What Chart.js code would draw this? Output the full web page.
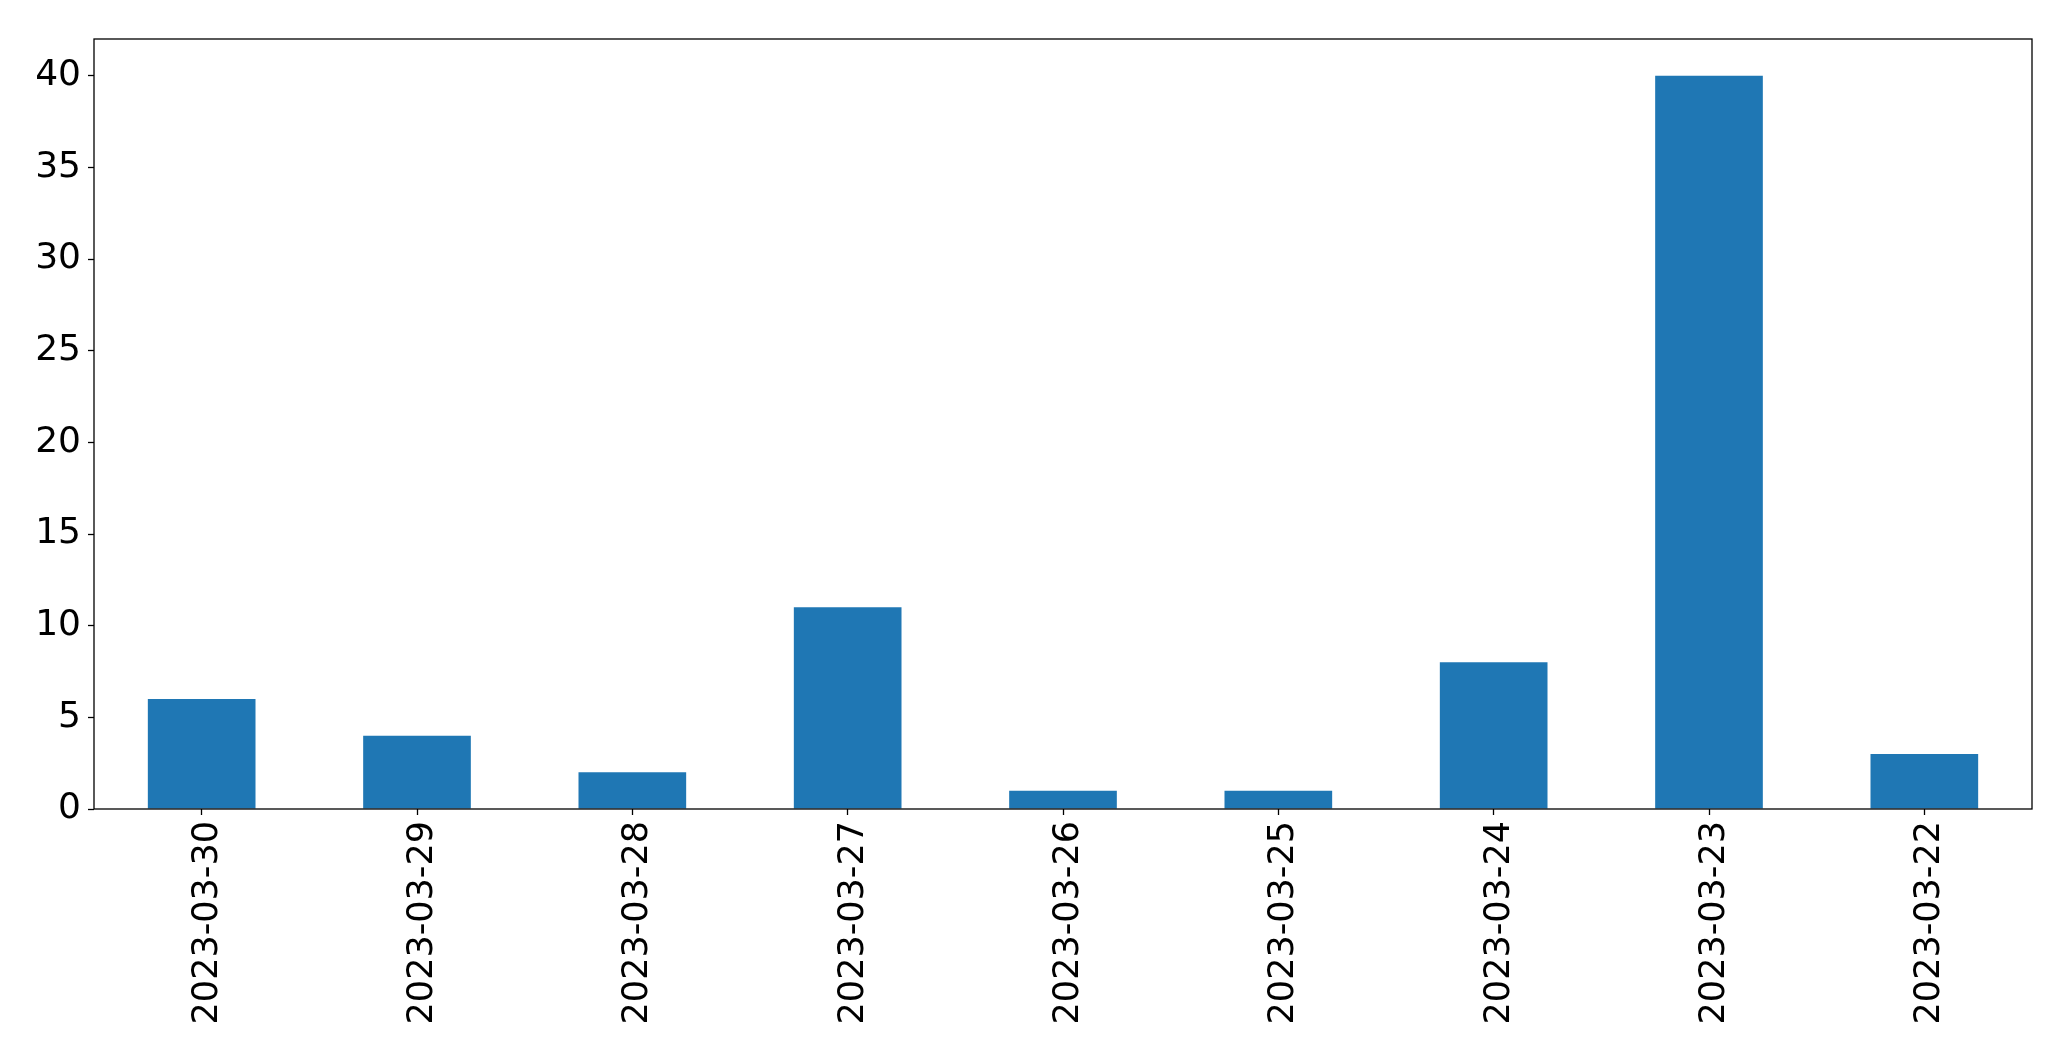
<!DOCTYPE html>
<html>
<head>
<meta charset="utf-8">
<script src="https://cdn.jsdelivr.net/npm/chart.js@4/dist/chart.umd.min.js"></script>
<style>
  html, body { margin: 0; padding: 0; background: #fff; }
  #wrap { width: 2071px; height: 1061px; }
</style>
</head>
<body>
<div id="wrap"><canvas id="myChart" width="2071" height="1061"></canvas></div>
<script>
const fechas = ["2023-03-30", "2023-03-29", "2023-03-28", "2023-03-27", "2023-03-26",
                "2023-03-25", "2023-03-24", "2023-03-23", "2023-03-22"];
const conteos = [6, 4, 2, 11, 1, 1, 8, 40, 3];
const yTicks = [0, 5, 10, 15, 20, 25, 30, 35, 40];

// marco negro alrededor del área del gráfico
const marco = {
    id: "marco",
    afterDraw(chart) {
        const { ctx, chartArea: a } = chart;
        ctx.save();
        ctx.strokeStyle = "#000";
        ctx.lineWidth = 1.3;
        ctx.strokeRect(a.left, a.top, a.right - a.left, a.bottom - a.top);
        ctx.restore();
    }
};

const ctx = document.getElementById("myChart").getContext("2d");

new Chart(ctx, {
    type: "bar",
    data: {
        labels: fechas,
        datasets: [{
            data: conteos,
            backgroundColor: "#1f77b4",
            borderWidth: 0,
            barPercentage: 0.5,
            categoryPercentage: 1
        }]
    },
    options: {
        responsive: false,
        animation: false,
        layout: { padding: { top: 39, right: 39, left: 0, bottom: 0 } },
        plugins: { legend: { display: false }, tooltip: { enabled: false } },
        scales: {
            x: {
                offset: true,
                grid: { display: true, offset: false, drawOnChartArea: false, tickLength: 6, color: "#000", tickWidth: 1.3 },
                border: { display: false },
                ticks: {
                    color: "#000",
                    font: { family: "DejaVu Sans", size: 35 },
                    minRotation: 90,
                    maxRotation: 90,
                    padding: 6,
                    labelOffset: 6,
                    autoSkip: false
                },
                afterFit(scale) { scale.height = 252; }
            },
            y: {
                min: 0,
                max: 42,
                afterBuildTicks(scale) { scale.ticks = yTicks.map(v => ({ value: v })); },
                grid: { display: true, drawOnChartArea: false, tickLength: 6, color: "#000", tickWidth: 1.3 },
                border: { display: false },
                ticks: {
                    color: "#000",
                    font: { family: "DejaVu Sans", size: 36 },
                    padding: 7
                },
                afterFit(scale) { scale.width = 94; }
            }
        }
    },
    plugins: [marco]
});
</script>
</body>
</html>
